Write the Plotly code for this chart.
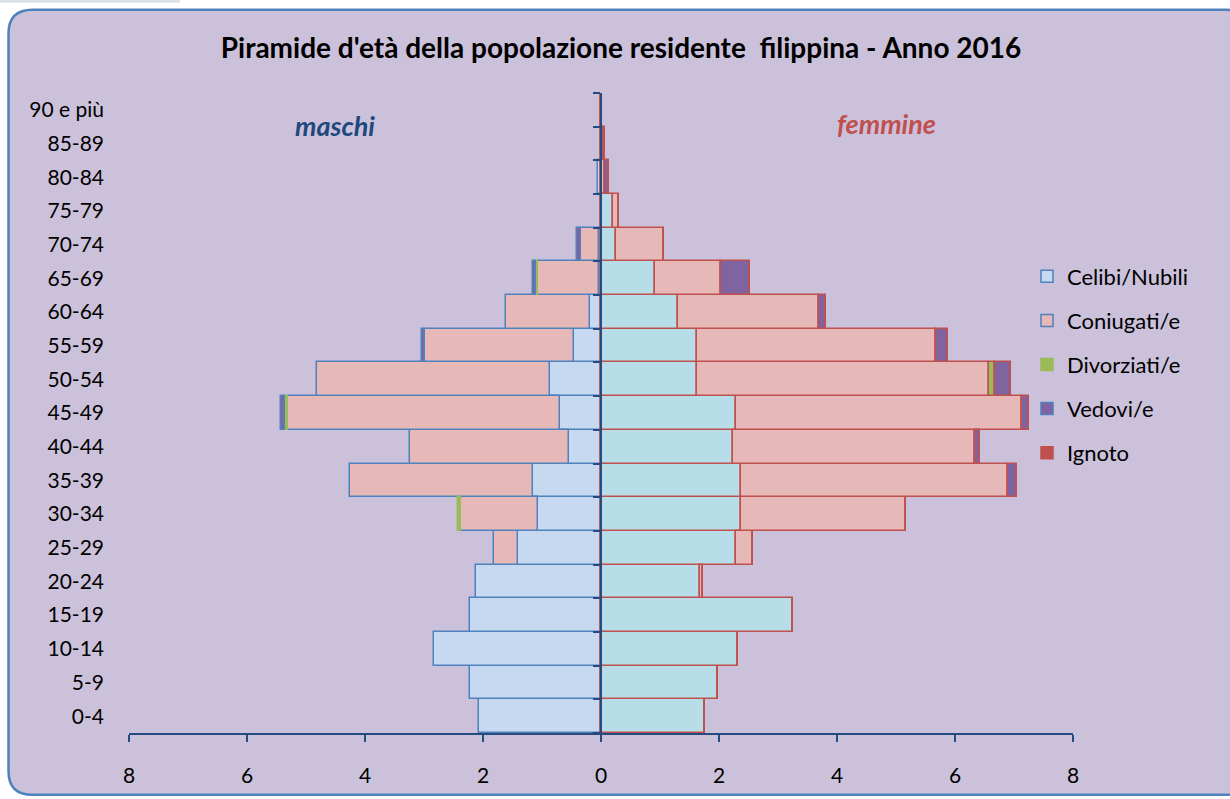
import plotly.graph_objects as go

ages = ["0-4", "5-9", "10-14", "15-19", "20-24", "25-29", "30-34", "35-39", "40-44",
        "45-49", "50-54", "55-59", "60-64", "65-69", "70-74", "75-79", "80-84", "85-89", "90 e più"]

# Maschi (percentuali)
celibi_m     = [2.07, 2.22, 2.83, 2.22, 2.12, 1.41, 1.06, 1.16, 0.55, 0.70, 0.86, 0.45, 0.19, 0.04, 0.03, 0.00, 0.05, 0.00, 0.00]
coniugati_m  = [0.00, 0.00, 0.00, 0.00, 0.00, 0.41, 1.31, 3.09, 2.68, 4.61, 3.95, 2.53, 1.42, 1.02, 0.31, 0.00, 0.00, 0.00, 0.00]
divorziati_m = [0.00, 0.00, 0.00, 0.00, 0.00, 0.00, 0.05, 0.00, 0.00, 0.04, 0.00, 0.00, 0.00, 0.04, 0.00, 0.00, 0.00, 0.00, 0.00]
vedovi_m     = [0.00, 0.00, 0.00, 0.00, 0.00, 0.00, 0.00, 0.00, 0.00, 0.07, 0.00, 0.05, 0.00, 0.06, 0.06, 0.00, 0.00, 0.00, 0.00]
ignoto_m     = [0.00] * 19

# Femmine (percentuali)
celibi_f     = [1.77, 1.98, 2.33, 3.25, 1.68, 2.28, 2.38, 2.38, 2.23, 2.28, 1.62, 1.62, 1.31, 0.92, 0.25, 0.20, 0.02, 0.01, 0.00]
coniugati_f  = [0.00, 0.00, 0.00, 0.00, 0.05, 0.30, 2.79, 4.51, 4.11, 4.86, 4.96, 4.05, 2.39, 1.11, 0.82, 0.11, 0.05, 0.03, 0.00]
divorziati_f = [0.00, 0.00, 0.00, 0.00, 0.00, 0.00, 0.00, 0.00, 0.00, 0.00, 0.10, 0.00, 0.00, 0.00, 0.00, 0.00, 0.00, 0.00, 0.00]
vedovi_f     = [0.00, 0.00, 0.00, 0.00, 0.00, 0.00, 0.00, 0.16, 0.09, 0.11, 0.27, 0.21, 0.11, 0.50, 0.00, 0.00, 0.07, 0.02, 0.00]
ignoto_f     = [0.00] * 19

series_names = ["Celibi/Nubili", "Coniugati/e", "Divorziati/e", "Vedovi/e", "Ignoto"]
x_ticks = [-8, -6, -4, -2, 0, 2, 4, 6, 8]

BLUE_LINE = "#4F81BD"
RED_LINE = "#C0504D"
AXIS = "#264B80"
BG = "#CCC1DA"
FONT = "Lato"

male_style = [
    ("#C6D9F1", BLUE_LINE),
    ("#E6B9B8", BLUE_LINE),
    ("#9BBB59", "#9BBB59"),
    ("#8064A2", BLUE_LINE),
    ("#C0504D", "#C0504D"),
]
female_style = [
    ("#B7DEE8", RED_LINE),
    ("#E6B9B8", RED_LINE),
    ("#9BBB59", RED_LINE),
    ("#8064A2", RED_LINE),
    ("#C0504D", RED_LINE),
]

male_data = [celibi_m, coniugati_m, divorziati_m, vedovi_m, ignoto_m]
female_data = [celibi_f, coniugati_f, divorziati_f, vedovi_f, ignoto_f]

fig = go.Figure()
for i, (name, vals) in enumerate(zip(series_names, male_data)):
    fill, line = male_style[i]
    fig.add_trace(go.Bar(
        y=ages, x=[-v for v in vals], orientation="h", name=name,
        legendgroup=f"g{i}", showlegend=True,
        marker=dict(color=fill, line=dict(color=line, width=1.5)),
    ))
for i, (name, vals) in enumerate(zip(series_names, female_data)):
    fill, line = female_style[i]
    fig.add_trace(go.Bar(
        y=ages, x=vals, orientation="h", name=name,
        legendgroup=f"g{i}", showlegend=False,
        marker=dict(color=fill, line=dict(color=line, width=1.5)),
    ))

# invisible helper trace for the central axis
fig.add_trace(go.Scatter(x=[0], y=[0], yaxis="y2", mode="markers",
                         marker=dict(opacity=0), showlegend=False, hoverinfo="skip"))

# plot area geometry (pixels)
L, R, T, B = 129, 1073, 93, 735
W, H = 1230, 799
def px(p):
    return (p - L) / (R - L)
def py(p):
    return (B - p) / (B - T)

left, top, right, bottom, r = 8.5, 9.5, 1250, 797, 24
path = (
    f"M {px(left + r)} {py(top)} L {px(right - r)} {py(top)} "
    f"Q {px(right)} {py(top)} {px(right)} {py(top + r)} "
    f"L {px(right)} {py(bottom - r)} Q {px(right)} {py(bottom)} {px(right - r)} {py(bottom)} "
    f"L {px(left + r)} {py(bottom)} Q {px(left)} {py(bottom)} {px(left)} {py(bottom - r)} "
    f"L {px(left)} {py(top + r)} Q {px(left)} {py(top)} {px(left + r)} {py(top)} Z"
)

n = len(ages)
fig.update_layout(
    width=W, height=H,
    margin=dict(l=L, r=W - R, t=T, b=H - B, pad=0),
    paper_bgcolor="white",
    plot_bgcolor="rgba(0,0,0,0)",
    barmode="relative",
    bargap=0,
    font=dict(family=FONT, color="black", size=21),
    title=dict(text="<b>Piramide d'età della popolazione residente  filippina - Anno 2016</b>",
               x=621 / W, xanchor="center", y=1 - 48 / H, yanchor="middle",
               font=dict(family=FONT, size=28, color="black")),
    xaxis=dict(range=[-8, 8], tickvals=x_ticks, ticktext=[str(abs(v)) for v in x_ticks],
               showgrid=False, zeroline=False, showline=True, linecolor=AXIS, linewidth=2,
               ticks="outside", ticklen=7, tickcolor=AXIS, tickwidth=1.5,
               ticklabelstandoff=16, tickfont=dict(size=21, family=FONT)),
    yaxis=dict(type="category", range=[-0.5, n - 0.5], showgrid=False, zeroline=False,
               showline=False, ticks="", ticklabelstandoff=24,
               tickfont=dict(size=21, family=FONT)),
    yaxis2=dict(overlaying="y", anchor="free", position=0.5, side="left",
                range=[-0.5, n - 0.5], tickvals=[k - 0.5 for k in range(n + 1)],
                showticklabels=False, showgrid=False, zeroline=False,
                showline=True, linecolor=AXIS, linewidth=2,
                ticks="outside", ticklen=7, tickcolor=AXIS, tickwidth=1.5),
    legend=dict(x=px(1027), y=py(256), xanchor="left", yanchor="top",
                bgcolor="rgba(0,0,0,0)", font=dict(size=22, family=FONT),
                tracegroupgap=12.5, traceorder="grouped", itemwidth=30),
    shapes=[dict(type="path", path=path, xref="paper", yref="paper",
                 fillcolor=BG, line=dict(color=BLUE_LINE, width=2.5), layer="below"),
            dict(type="line", xref="paper", yref="paper", x0=px(0), x1=px(180),
                 y0=py(1), y1=py(1), line=dict(color="#DCE1EA", width=3))],
    annotations=[
        dict(text="<b><i>maschi</i></b>", x=px(335), y=py(126), xref="paper", yref="paper",
             xanchor="center", yanchor="middle",
             showarrow=False, font=dict(size=27, color="#1F497D", family=FONT)),
        dict(text="<b><i>femmine</i></b>", x=px(886), y=py(124), xref="paper", yref="paper",
             xanchor="center", yanchor="middle",
             showarrow=False, font=dict(size=27, color="#C0504D", family=FONT)),
    ],
)

fig.write_html("out.html", post_script="document.body.style.margin='0px';",
               config={"displayModeBar": False})
